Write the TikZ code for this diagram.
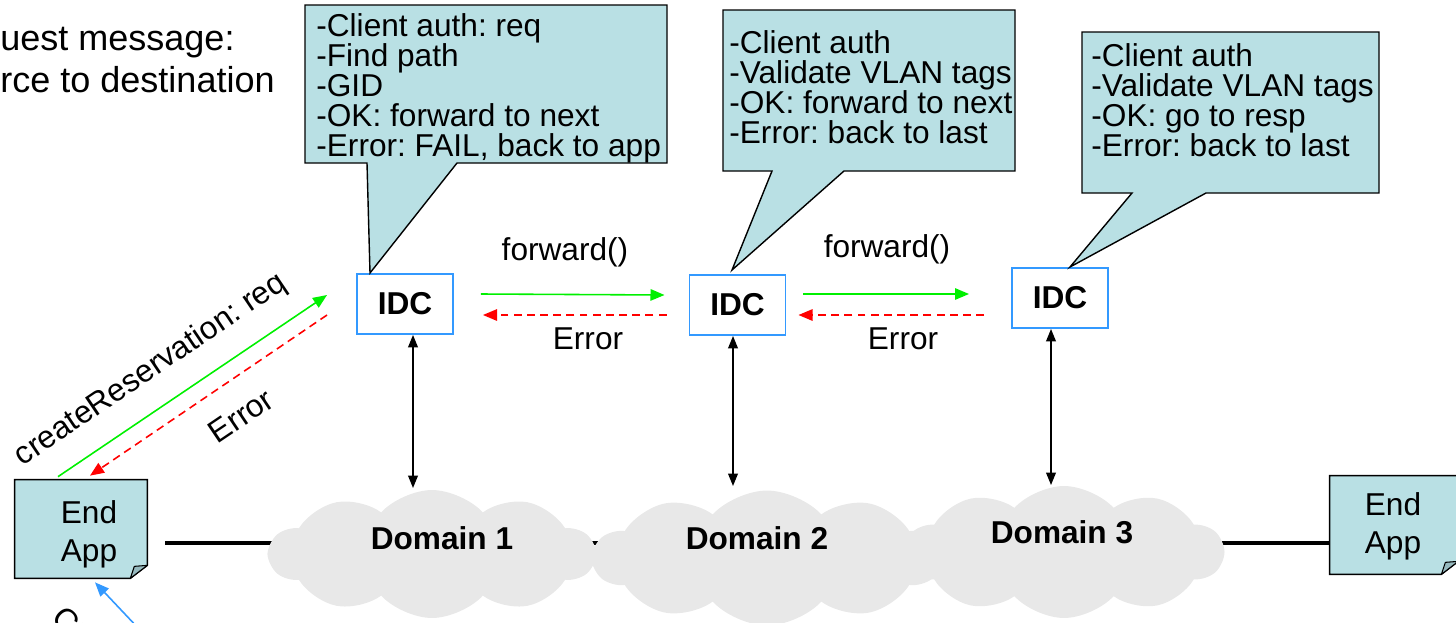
\documentclass[tikz,border=0pt]{standalone}
\usepackage{fontspec}
\setmainfont{Liberation Sans}
\usetikzlibrary{arrows.meta,shapes.symbols}
\newcommand{\tightlines}{\lineskiplimit=-50pt\relax}
\frenchspacing
\definecolor{balloonfill}{RGB}{185,224,228}
\definecolor{foldfill}{RGB}{150,185,190}
\definecolor{idcedge}{RGB}{51,153,255}
\definecolor{cloudgrey}{RGB}{232,232,232}
\definecolor{okgreen}{RGB}{0,240,0}
\tikzset{
	balloon/.style={fill=balloonfill,draw=black,line width=0.8pt,line join=miter},
	balloontext/.style={anchor=base west,inner sep=0pt,align=left,font=\fontsize{18}{17.07}\selectfont\tightlines},
	idcbox/.style={draw=idcedge,line width=1.1pt,fill=white,minimum width=1.92cm,minimum height=1.2cm,inner sep=0pt,font=\fontsize{18}{20}\selectfont\bfseries},
	appframe/.style={inner sep=0pt,minimum width=#1,minimum height=1.96cm},
	appfill/.style={fill=balloonfill,draw=black,line width=0.8pt},
	foldstyle/.style={fill=foldfill,draw=black,line width=0.6pt,line join=round},
	apptext/.style={inner sep=0pt,align=center,font=\fontsize{18}{21.6}\selectfont},
	domcloud/.style={cloud,cloud puffs=10,cloud puff arc=95,aspect=2.5,fill=cloudgrey,draw=none,inner sep=0pt},
	domlabel/.style={inner sep=0pt,font=\fontsize{18}{20}\selectfont\bfseries},
	msg/.style={inner sep=0pt,font=\fontsize{18}{20}\selectfont},
	okarrow/.style={okgreen,line width=0.9pt,-{Triangle[length=8pt,width=6.5pt]}},
	errarrow/.style={red,line width=0.9pt,dash pattern=on 4.5pt off 3pt,-{Triangle[length=8pt,width=6.5pt]}},
	duplex/.style={black,line width=0.8pt,{Triangle[length=7pt,width=5.5pt]}-{Triangle[length=7pt,width=5.5pt]}},
	backbone/.style={black,line width=2.8pt},
	callarrow/.style={idcedge,line width=0.9pt,-{Triangle[length=8pt,width=6.5pt]}}
}
\begin{document}
\begin{tikzpicture}[x=0.02cm,y=-0.02cm]
	\useasboundingbox (0,0) rectangle (1456,622);
	\node[msg,anchor=base west,align=left,font=\fontsize{20.5}{23.9}\selectfont\tightlines] (intro) at (0,92) {uest message:\\rce to destination};

	\node[idcbox] (idcA) at (405,304) {IDC};
	\node[idcbox] (idcB) at (737.5,305) {IDC};
	\node[idcbox] (idcC) at (1060,298) {IDC};

	\filldraw[balloon] (305,5) -- (667,5) -- (667,163) -- (457,163) -- (370,273) -- (367,163) -- (305,163) -- cycle;
	\filldraw[balloon] (723,10) -- (1015,10) -- (1015,171) -- (844,171) -- (732,270) -- (772,171) -- (723,171) -- cycle;
	\filldraw[balloon] (1082,32) -- (1379,32) -- (1379,193) -- (1206,193) -- (1070,267) -- (1132,193) -- (1082,193) -- cycle;
	\node[balloontext] (noteA) at (316,156) {-Client auth: req\\-Find path\\-GID\\-OK: forward to next\\-Error: FAIL, back to app};
	\node[balloontext] (noteB) at (729,143) {-Client auth\\-Validate VLAN tags\\-OK: forward to next\\-Error: back to last};
	\node[balloontext] (noteC) at (1091,156) {-Client auth\\-Validate VLAN tags\\-OK: go to resp\\-Error: back to last};

	\node[appframe=2.64cm] (appL) at (81,529) {};
	\node[appframe=2.56cm] (appR) at (1394,525) {};
	\draw[backbone] ([shift={(18,14)}]appL.east) -- ([shift={(0,18)}]appR.west);

	\node[domcloud,minimum width=6.5cm,minimum height=2.56cm] (cloudA) at (432,554) {};
	\node[domcloud,minimum width=6.94cm,minimum height=2.7cm] (cloudB) at (767,558) {};
	\node[domcloud,minimum width=6.36cm,minimum height=2.64cm] (cloudC) at (1064,552) {};
	\node[domlabel] (domA) at (442,538) {Domain 1};
	\node[domlabel] (domB) at (757,538) {Domain 2};
	\node[domlabel] (domC) at (1062,532) {Domain 3};

	\filldraw[appfill] (appL.north west) -- (appL.north east) -- ([shift={(0,-13)}]appL.south east) -- ([shift={(-17,0)}]appL.south east) -- (appL.south west) -- cycle;
	\filldraw[foldstyle] ([shift={(-17,0)}]appL.south east) -- ([shift={(0,-13)}]appL.south east) -- ([shift={(-13,-12)}]appL.south east) -- cycle;
	\filldraw[appfill] (appR.north west) -- (appR.north east) -- ([shift={(0,-13)}]appR.south east) -- ([shift={(-17,0)}]appR.south east) -- (appR.south west) -- cycle;
	\filldraw[foldstyle] ([shift={(-17,0)}]appR.south east) -- ([shift={(0,-13)}]appR.south east) -- ([shift={(-13,-12)}]appR.south east) -- cycle;
	\node[apptext] (appLtext) at ([shift={(8,5)}]appL.center) {End\\App};
	\node[apptext] (appRtext) at ([shift={(-1,1)}]appR.center) {End\\App};

	\coordinate (dropA) at (413,488);
	\coordinate (dropB) at (733,486);
	\coordinate (dropC) at (1051,485);
	\draw[duplex] (idcA.south -| dropA) -- (dropA);
	\draw[duplex] (idcB.south -| dropB) -- (dropB);
	\draw[duplex] (idcC.south -| dropC) -- (dropC);

	\draw[okarrow] ([shift={(27,-10)}]idcA.east) -- ([shift={(-24,-10)}]idcB.west);
	\draw[errarrow] ([shift={(-22,10)}]idcB.west) -- ([shift={(29,11)}]idcA.east);
	\draw[okarrow] ([shift={(17,-11)}]idcB.east) -- ([shift={(-42,-4)}]idcC.west);
	\draw[errarrow] ([shift={(-27,17)}]idcC.west) -- ([shift={(12,10)}]idcB.east);
	\node[msg] (fwdA) at (565,252) {forward()};
	\node[msg] (fwdB) at (887,249) {forward()};
	\node[msg] (errA) at (588,339) {Error};
	\node[msg] (errB) at (903,339) {Error};

	\draw[okarrow] ([shift={(-23,-3)}]appL.north) -- ([shift={(-29,-9)}]idcA.west);
	\draw[errarrow] ([shift={(-29,11)}]idcA.west) -- ([shift={(9,-4)}]appL.north);
	\node[msg,rotate=34] (reqlabel) at (151,370) {createReservation: req};
	\node[msg,rotate=34] (reqerr) at (241,416) {Error};

	\coordinate (ctfoot) at (140,630);
	\draw[callarrow] (ctfoot) -- ([shift={(14,4)}]appL.south);
	\node[msg,rotate=-45,anchor=base west] (ctlabel) at (50,619) {Ct};
\end{tikzpicture}
\end{document}
